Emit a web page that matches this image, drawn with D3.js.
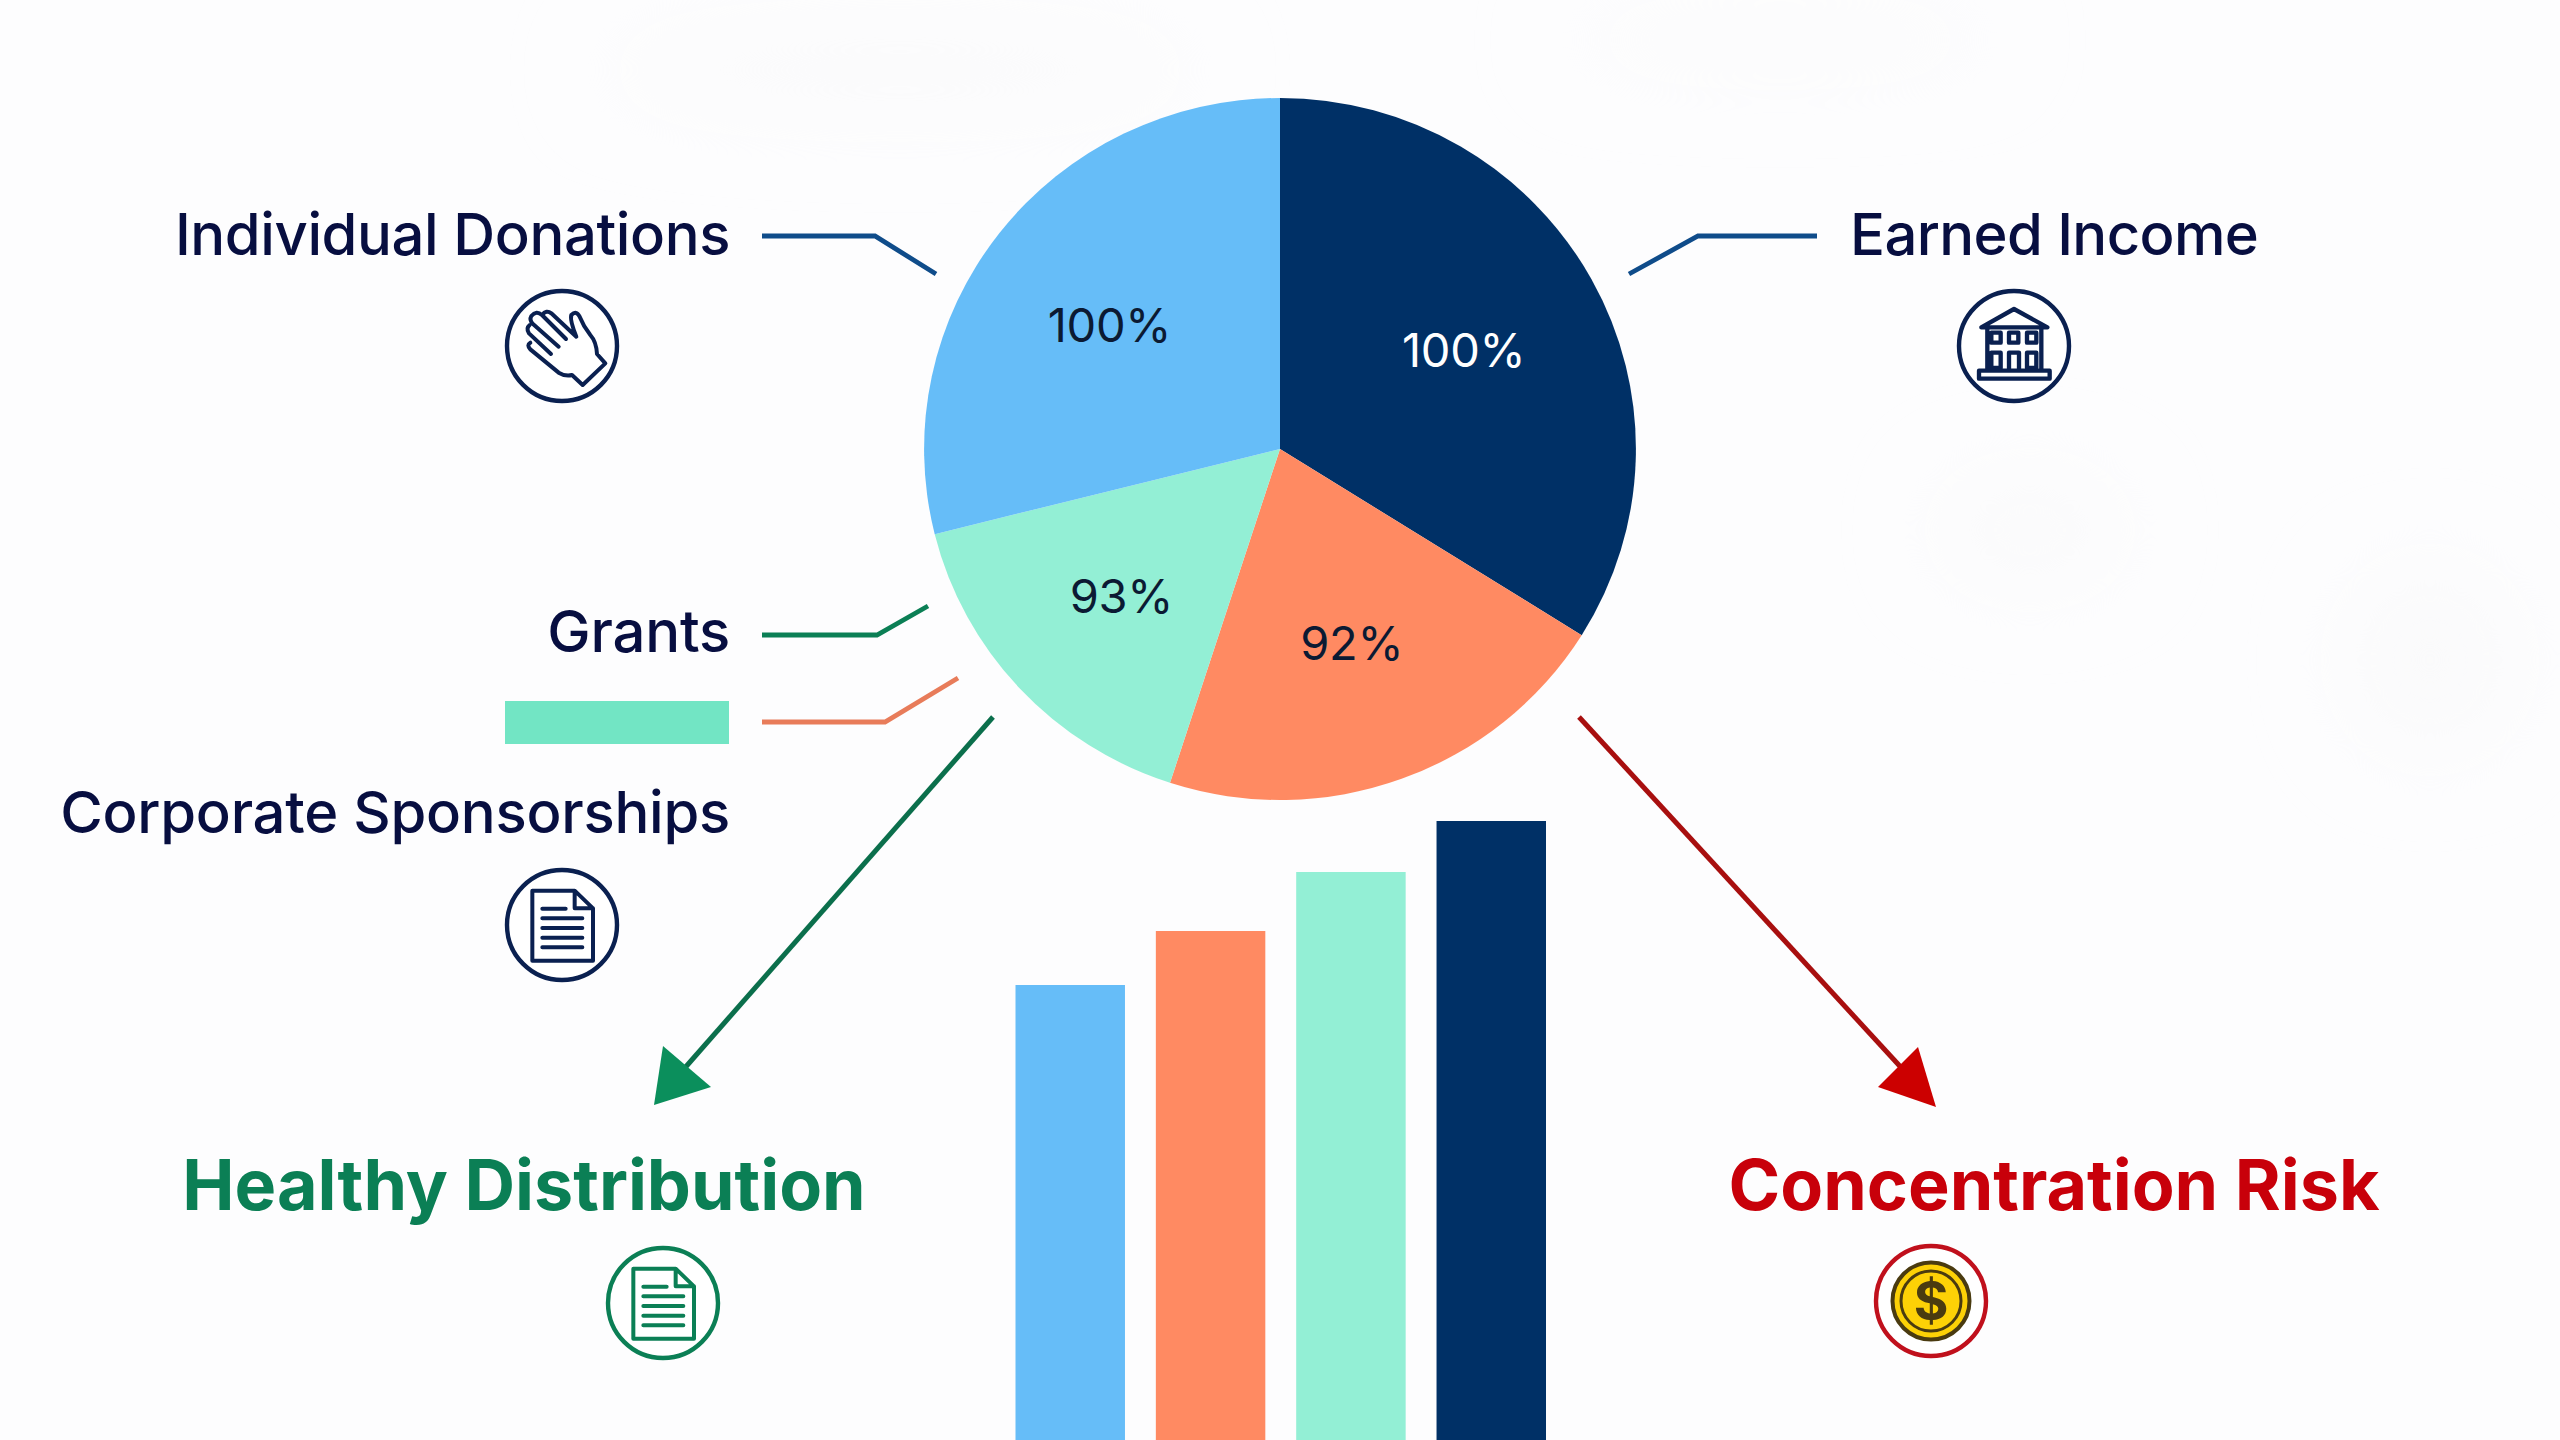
<!DOCTYPE html>
<html>
<head>
<meta charset="utf-8">
<script src="https://cdn.jsdelivr.net/npm/d3@7"></script>
<style>
  html, body { margin: 0; padding: 0; background: #fdfdfe; }
  svg { display: block; }
  text { font-family: Inter, "Noto Sans", sans-serif; }
</style>
</head>
<body>
<svg id="chart" width="2560" height="1440"></svg>
<script>
// pie: share of the circle, clockwise from 12 o'clock
const sliceNames = ['Earned Income', 'Corporate Sponsorships', 'Grants', 'Individual Donations'];
const sliceShares = [33.9, 21.1, 16.1, 28.9];
const sliceLabels = ['100%', '92%', '93%', '100%'];
const sliceColors = ['#003066', '#ff8a62', '#93efd5', '#66bdf8'];
const sliceLabelColors = ['#ffffff', '#0b1a33', '#0b1a33', '#0b1a33'];

// bars, left to right (they run off the bottom of the page)
const barNames = ['Individual Donations', 'Corporate Sponsorships', 'Grants', 'Earned Income'];
const barValues = [45.5, 50.9, 56.8, 61.9];
const barColors = ['#66bdf8', '#ff8a62', '#93efd5', '#003066'];

const navy = '#070e40';
const iconNavy = '#0a2050';
const green = '#0b7f55';
const red = '#c8000a';

const svg = d3.select('#chart');

// faint smudges in the page background
const defs = svg.append('defs');
defs.append('filter').attr('id', 'soft').attr('x', '-50%').attr('y', '-50%').attr('width', '200%').attr('height', '200%')
  .append('feGaussianBlur').attr('stdDeviation', 45);
const smudges = svg.append('g').attr('filter', 'url(#soft)').attr('fill', '#fafafb');
smudges.append('ellipse').attr('cx', 900).attr('cy', 70).attr('rx', 300).attr('ry', 35);
smudges.append('ellipse').attr('cx', 1780).attr('cy', 40).attr('rx', 220).attr('ry', 20);
smudges.append('ellipse').attr('cx', 2030).attr('cy', 530).attr('rx', 90).attr('ry', 50);
smudges.append('ellipse').attr('cx', 2430).attr('cy', 660).attr('rx', 80).attr('ry', 90);

// pie, a little wider than tall as in the picture
const pie = d3.pie().sort(null).value(d => d);
const arc = d3.arc().innerRadius(0).outerRadius(351);
const labelArc = d3.arc().innerRadius(210).outerRadius(210);
const labelNudge = [[0, 3], [0, -3], [-5, 4], [-5, 5]];
const pieG = svg.append('g').attr('transform', 'translate(1280,449)');
const arcs = pie(sliceShares);

pieG.selectAll('path')
  .data(arcs)
  .enter().append('path')
  .attr('transform', 'scale(1.014,1)')
  .attr('d', arc)
  .attr('fill', (d, i) => sliceColors[i]);

pieG.selectAll('text')
  .data(arcs)
  .enter().append('text')
  .attr('transform', (d, i) => {
    const c = labelArc.centroid(d);
    return `translate(${c[0] + labelNudge[i][0]},${c[1] + labelNudge[i][1]})`;
  })
  .attr('text-anchor', 'middle')
  .attr('dy', '0.36em')
  .attr('font-size', 47)
  .attr('letter-spacing', -0.3)
  .attr('fill', (d, i) => sliceLabelColors[i])
  .text((d, i) => sliceLabels[i]);

// bars
const x = d3.scaleBand().domain(barNames).range([1015.5, 1546]).paddingInner(0.22);
const y = d3.scaleLinear().domain([0, 100]).range([1440, 440]);

svg.append('g').selectAll('rect')
  .data(barValues)
  .enter().append('rect')
  .attr('x', (d, i) => x(barNames[i]))
  .attr('y', d => y(d))
  .attr('width', x.bandwidth())
  .attr('height', d => y(0) - y(d))
  .attr('fill', (d, i) => barColors[i]);

// labels
function label(txt, px, py, anchor, size, weight, fill, spacing) {
  svg.append('text').attr('x', px).attr('y', py)
    .attr('text-anchor', anchor).attr('font-size', size)
    .attr('font-weight', weight).attr('fill', fill)
    .attr('letter-spacing', spacing).text(txt);
}
label('Individual Donations', 730, 254.5, 'end', 58, 500, navy, -0.4);
label('Earned Income', 1850, 254.5, 'start', 58, 500, navy, -0.6);
label('Grants', 730, 652, 'end', 58, 500, navy, -0.2);
label('Corporate Sponsorships', 730, 832.5, 'end', 58, 500, navy, -0.25);
label('Healthy Distribution', 524, 1210, 'middle', 70, 700, green, 0);
label('Concentration Risk', 2054, 1210, 'middle', 70, 700, red, 0);

// legend swatch next to Grants
svg.append('rect').attr('x', 505).attr('y', 701).attr('width', 224).attr('height', 43).attr('fill', '#72e5c4');

// leader lines
const line = d3.line();
function leader(points, color) {
  svg.append('path').attr('d', line(points)).attr('fill', 'none')
    .attr('stroke', color).attr('stroke-width', 4.8);
}
leader([[762, 236], [875, 236], [936, 274]], '#0f4c8a');
leader([[1817, 236], [1698, 236], [1629, 274]], '#0f4c8a');
leader([[762, 635], [877, 635], [928, 606]], '#0b7f55');
leader([[762, 722], [885, 722], [958, 678]], '#e87c5a');

// arrows
function arrow(from, to, head, lineColor, headColor) {
  svg.append('path').attr('d', line([from, to])).attr('stroke', lineColor).attr('stroke-width', 5);
  svg.append('path').attr('d', line(head) + 'Z').attr('fill', headColor);
}
arrow([993, 717], [683, 1070], [[654, 1105], [663, 1046], [711, 1087]], '#0b6f4c', '#0b8f5c');
arrow([1579, 717], [1908, 1075], [[1936, 1107], [1918, 1047], [1878, 1087]], '#a80f0f', '#cc0000');

// icons, drawn in 3x units around their own centre
function icon(cx, cy, color, ringR) {
  const g = svg.append('g').attr('transform', `translate(${cx},${cy})`);
  g.append('circle').attr('r', ringR).attr('fill', '#fff').attr('stroke', color).attr('stroke-width', 4.4);
  return g;
}
function glyph(g, ox, oy, color, d, sw) {
  return g.append('path').attr('transform', `scale(${1 / 3}) translate(${-ox},${-oy})`)
    .attr('d', d).attr('fill', 'none').attr('stroke', color).attr('stroke-width', sw)
    .attr('stroke-linejoin', 'round').attr('stroke-linecap', 'round');
}
const handPath = 'M397,375 L465,310 L440,282 Q438,245 420,225 Q400,200 388,170 Q378,150 363,165 Q358,180 378,230 L303,160 Q288,148 275,165 L347,237 ' +
  'M275,165 Q258,150 243,168 Q236,180 248,192 L325,260 M238,195 Q226,205 236,220 L302,282 M240,248 Q228,255 240,268 L325,338 Q345,350 365,345 L397,375';
const housePath = 'M185,172 L283,117 L383,172 Z M203,175 L203,300 M365,175 L365,300 ' +
  'M215,188 h28 v30 h-28 Z M268,188 h28 v30 h-28 Z M322,188 h28 v30 h-28 Z ' +
  'M215,248 h28 v46 h-28 Z M268,248 h30 v52 M268,248 v52 M322,248 h28 v46 h-28 Z M178,302 h212 v24 h-212 Z';
const docPath = 'M158,122 L285,122 L340,175 L340,332 L158,332 Z M285,122 L285,175 L340,175 ' +
  'M188,176 H258 M188,205 H308 M188,234 H308 M188,263 H308 M188,292 H308';

glyph(icon(562, 346, iconNavy, 55), 335, 258, iconNavy, handPath, 12);
glyph(icon(2014, 346, iconNavy, 55), 283, 228, iconNavy, housePath, 13);
glyph(icon(562, 925, iconNavy, 55), 247, 225, iconNavy, docPath, 12);
glyph(icon(663, 1303, green, 55), 247, 225, green, docPath, 12);

const coin = icon(1931, 1301, '#c0101c', 55);
coin.append('circle').attr('r', 38.5).attr('fill', '#fdd106').attr('stroke', '#4a3b10').attr('stroke-width', 4);
coin.append('circle').attr('r', 30).attr('fill', 'none').attr('stroke', '#4a3b10').attr('stroke-width', 3);
coin.append('text').attr('text-anchor', 'middle').attr('y', 19).attr('font-size', 53)
  .attr('font-weight', 700).attr('fill', '#4a3b10').text('$');
</script>
</body>
</html>
